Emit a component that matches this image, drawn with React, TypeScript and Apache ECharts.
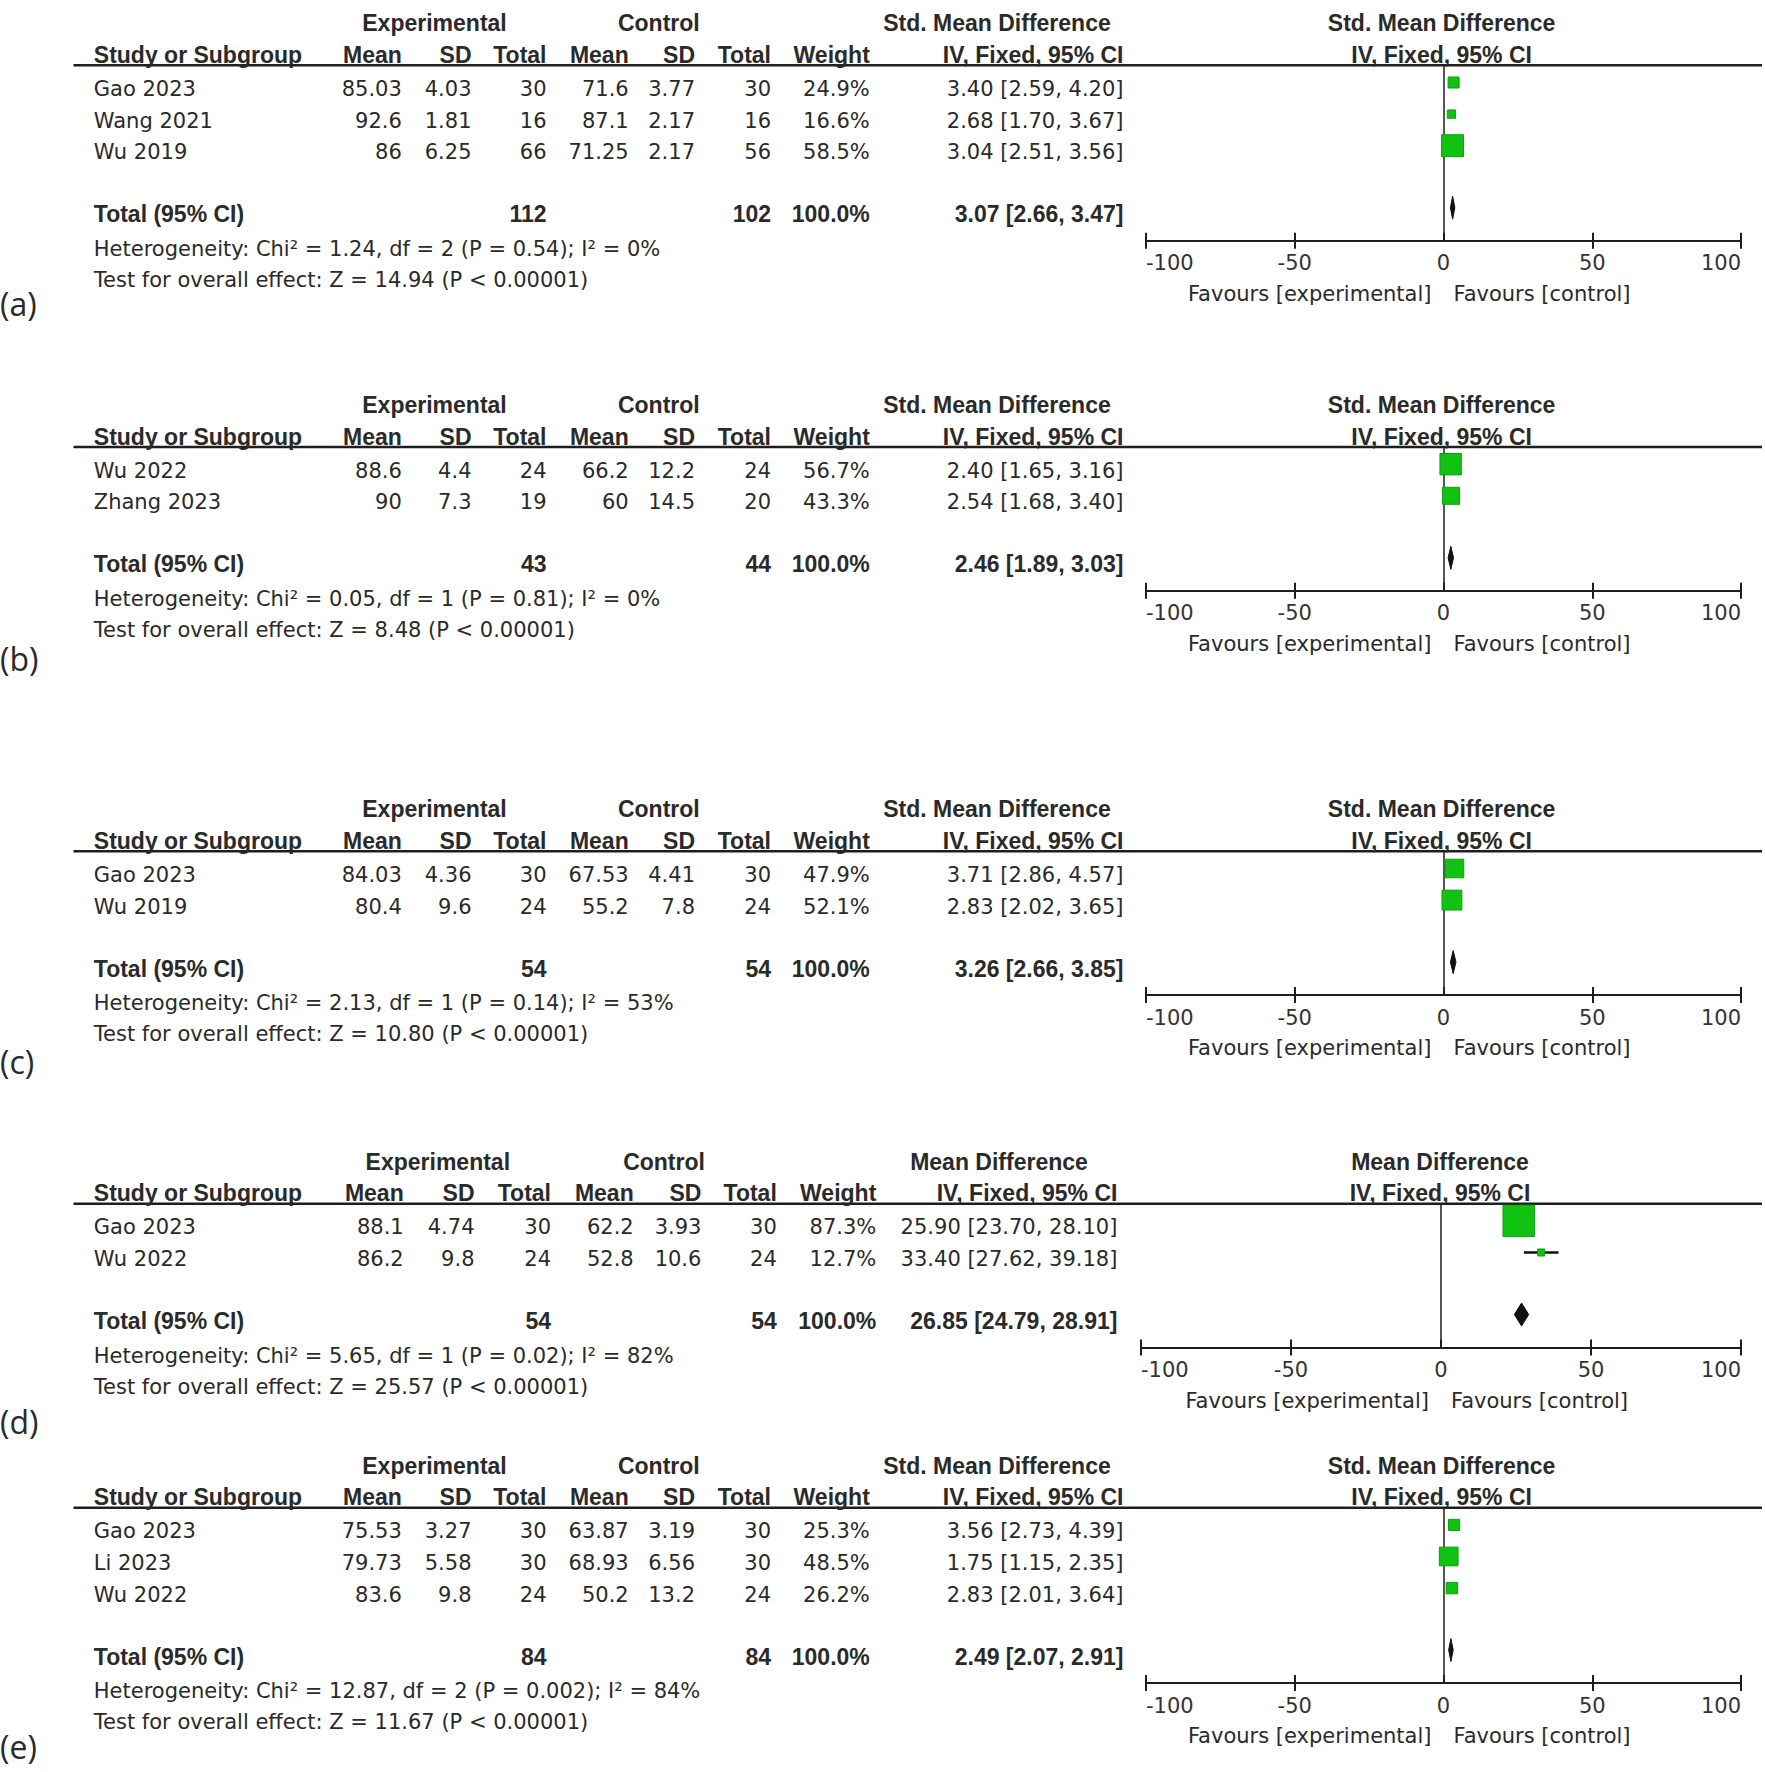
import React, { useEffect, useRef } from "react";
import * as echarts from "echarts";

// ---------------- DATA ----------------
const panelLabels = ["(a)", "(b)", "(c)", "(d)", "(e)"];
const effectTitles = [
  "Std. Mean Difference",
  "Std. Mean Difference",
  "Std. Mean Difference",
  "Mean Difference",
  "Std. Mean Difference",
];
const methodTitle = "IV, Fixed, 95% CI";
const studyNames = [
  ["Gao 2023", "Wang 2021", "Wu 2019"],
  ["Wu 2022", "Zhang 2023"],
  ["Gao 2023", "Wu 2019"],
  ["Gao 2023", "Wu 2022"],
  ["Gao 2023", "Li 2023", "Wu 2022"],
];
const expMean = [[85.03, 92.6, 86], [88.6, 90], [84.03, 80.4], [88.1, 86.2], [75.53, 79.73, 83.6]];
const expSD = [[4.03, 1.81, 6.25], [4.4, 7.3], [4.36, 9.6], [4.74, 9.8], [3.27, 5.58, 9.8]];
const expTotal = [[30, 16, 66], [24, 19], [30, 24], [30, 24], [30, 30, 24]];
const ctlMean = [[71.6, 87.1, 71.25], [66.2, 60], [67.53, 55.2], [62.2, 52.8], [63.87, 68.93, 50.2]];
const ctlSD = [[3.77, 2.17, 2.17], [12.2, 14.5], [4.41, 7.8], [3.93, 10.6], [3.19, 6.56, 13.2]];
const ctlTotal = [[30, 16, 56], [24, 20], [30, 24], [30, 24], [30, 30, 24]];
const weights = [[24.9, 16.6, 58.5], [56.7, 43.3], [47.9, 52.1], [87.3, 12.7], [25.3, 48.5, 26.2]];
const estimates = [[3.4, 2.68, 3.04], [2.4, 2.54], [3.71, 2.83], [25.9, 33.4], [3.56, 1.75, 2.83]];
const ciLower = [[2.59, 1.7, 2.51], [1.65, 1.68], [2.86, 2.02], [23.7, 27.62], [2.73, 1.15, 2.01]];
const ciUpper = [[4.2, 3.67, 3.56], [3.16, 3.4], [4.57, 3.65], [28.1, 39.18], [4.39, 2.35, 3.64]];
const totalExp = [112, 43, 54, 54, 84];
const totalCtl = [102, 44, 54, 54, 84];
const pooledEst = [3.07, 2.46, 3.26, 26.85, 2.49];
const pooledLower = [2.66, 1.89, 2.66, 24.79, 2.07];
const pooledUpper = [3.47, 3.03, 3.85, 28.91, 2.91];
const hetChi2 = [1.24, 0.05, 2.13, 5.65, 12.87];
const hetDf = [2, 1, 1, 1, 2];
const hetP = ["0.54", "0.81", "0.14", "0.02", "0.002"];
const hetI2 = [0, 0, 53, 82, 84];
const zValues = [14.94, 8.48, 10.8, 25.57, 11.67];
const overallP = ["0.00001", "0.00001", "0.00001", "0.00001", "0.00001"];
const axisMin = -100;
const axisMax = 100;
const axisStep = 50;
const favoursLeft = "Favours [experimental]";
const favoursRight = "Favours [control]";

// ---------------- LAYOUT ----------------
const W = 1765;
const H = 1772;
const PANEL_TOP = [23.3, 405, 809.3, 1161.7, 1465.7];
const LABEL_Y = [303.3, 658.3, 1061.7, 1421.7, 1746];
const HDR2 = 31.7;
const HLINE = 42;
const ROW0 = 65.7;
const ROW_GAP = 31.6;
const TOTAL_GAP = 62;
const HET = 34.5;
const TEST = 65.5;
const AXIS = 26.5;
const PLOT_SHIFT = -6.5;

const colsStd = {
  study: 93.8, expMean: 401.8, expSD: 471.5, expTotal: 546.5,
  ctlMean: 628.7, ctlSD: 695, ctlTotal: 771, weight: 869.8, ci: 1123.5,
  expHead: 434.5, ctlHead: 658.8, effHead: 997,
  plotL: 1146, plotR: 1741, plotHead: 1441.6,
};
const colsMD = {
  study: 93.8, expMean: 403.7, expSD: 474.5, expTotal: 551,
  ctlMean: 633.7, ctlSD: 701.4, ctlTotal: 776.8, weight: 876.3, ci: 1117.4,
  expHead: 437.8, ctlHead: 664, effHead: 999,
  plotL: 1141, plotR: 1741, plotHead: 1440,
};
const panelCols = [colsStd, colsStd, colsStd, colsMD, colsStd];

const REG = "'DejaVu Sans', sans-serif";
const BOLD = "'Liberation Sans', Arial, sans-serif";
const REG_SIZE = 21;
const BOLD_SIZE = 23;
const LABEL_SIZE = 32;
const TXT = "#2a2a2a";
const GREEN = "#12c212";
const GREEN_EDGE = "#0ba00b";

const fmt2 = (v: number) => v.toFixed(2);
const ciText = (e: number, l: number, u: number) => `${fmt2(e)} [${fmt2(l)}, ${fmt2(u)}]`;

function txt(text: string, x: number, y: number, align: string, bold = false, size?: number, family?: string) {
  return {
    type: "text",
    x,
    y,
    silent: true,
    style: {
      text,
      textAlign: align,
      textVerticalAlign: "middle",
      fontFamily: family || (bold ? BOLD : REG),
      fontWeight: bold ? "bold" : "normal",
      fontSize: size || (bold ? BOLD_SIZE : REG_SIZE),
      fill: TXT,
    },
  };
}

function buildOption() {
  const grids: any[] = [];
  const xAxes: any[] = [];
  const yAxes: any[] = [];
  const series: any[] = [];
  const graphics: any[] = [];

  panelLabels.forEach((label, p) => {
    const c = panelCols[p];
    const top = PANEL_TOP[p];
    const n = studyNames[p].length;
    const rowY = (i: number) => top + ROW0 + i * ROW_GAP;
    const totalY = rowY(n - 1) + TOTAL_GAP;
    const gridTop = top + HLINE;
    const gridBottom = totalY + AXIS;
    const sq0 = rowY(0) + PLOT_SHIFT;
    const yMin = (gridTop - sq0) / ROW_GAP;
    const yMax = (gridBottom - sq0) / ROW_GAP;
    const totalRow = (n - 1) + TOTAL_GAP / ROW_GAP;
    const zeroX = c.plotL + ((0 - axisMin) / (axisMax - axisMin)) * (c.plotR - c.plotL);

    grids.push({
      left: c.plotL,
      top: gridTop,
      width: c.plotR - c.plotL,
      height: gridBottom - gridTop,
      containLabel: false,
    });
    const tickLine = { color: "#1e1e1e", width: 2 };
    xAxes.push({
      gridIndex: p,
      type: "value",
      min: axisMin,
      max: axisMax,
      interval: axisStep,
      position: "bottom",
      axisLine: { show: true, onZero: false, lineStyle: { color: "#1e1e1e", width: 2 } },
      axisTick: { show: true, inside: true, length: 8, lineStyle: tickLine },
      axisLabel: {
        show: true,
        margin: 12,
        color: "#333",
        fontFamily: REG,
        fontSize: REG_SIZE,
        alignMinLabel: "left",
        alignMaxLabel: "right",
      },
      splitLine: { show: false },
    });
    xAxes.push({
      gridIndex: p,
      type: "value",
      min: axisMin,
      max: axisMax,
      interval: axisStep,
      position: "bottom",
      axisLine: { show: false, onZero: false },
      axisTick: {
        show: true,
        inside: false,
        length: 8,
        lineStyle: tickLine,
        customValues: [axisMin, axisMin + axisStep, axisMax - axisStep, axisMax],
      },
      axisLabel: { show: false },
      splitLine: { show: false },
    });
    yAxes.push({
      gridIndex: p,
      type: "value",
      inverse: true,
      min: yMin,
      max: yMax,
      axisLine: { show: true, onZero: true, onZeroAxisIndex: 2 * p, lineStyle: { color: "#1e1e1e", width: 1.5 } },
      axisTick: { show: false },
      axisLabel: { show: false },
      splitLine: { show: false },
    });

    const studyData = studyNames[p].map((_, i) => [
      estimates[p][i], ciLower[p][i], ciUpper[p][i], i, weights[p][i],
    ]);
    series.push({
      type: "custom",
      xAxisIndex: 2 * p,
      yAxisIndex: p,
      clip: false,
      silent: true,
      encode: { x: [0, 1, 2], y: 3 },
      data: studyData,
      renderItem: (params: any, api: any) => {
        const est = api.value(0);
        const lo = api.value(1);
        const hi = api.value(2);
        const row = api.value(3);
        const w = api.value(4);
        const pL = api.coord([lo, row]);
        const pH = api.coord([hi, row]);
        const pE = api.coord([est, row]);
        const s = 2.85 + 0.327 * w;
        return {
          type: "group",
          children: [
            {
              type: "line",
              shape: { x1: pL[0], y1: pL[1], x2: pH[0], y2: pH[1] },
              style: { stroke: "#111", lineWidth: 2.5 },
            },
            {
              type: "rect",
              shape: { x: pE[0] - s / 2, y: pE[1] - s / 2, width: s, height: s },
              style: { fill: GREEN, stroke: GREEN_EDGE, lineWidth: 1 },
            },
          ],
        };
      },
    });
    series.push({
      type: "custom",
      xAxisIndex: 2 * p,
      yAxisIndex: p,
      clip: false,
      silent: true,
      encode: { x: [0, 1, 2], y: 3 },
      data: [[pooledEst[p], pooledLower[p], pooledUpper[p], totalRow]],
      renderItem: (params: any, api: any) => {
        const row = api.value(3);
        const pE = api.coord([api.value(0), row]);
        const pL = api.coord([api.value(1), row]);
        const pH = api.coord([api.value(2), row]);
        const h = 11.5;
        return {
          type: "polygon",
          shape: {
            points: [
              [pL[0] - 1, pE[1]],
              [pE[0], pE[1] - h],
              [pH[0] + 1, pE[1]],
              [pE[0], pE[1] + h],
            ],
          },
          style: { fill: "#111", stroke: "#111", lineWidth: 1 },
        };
      },
    });

    // header line
    graphics.push({
      type: "line",
      silent: true,
      shape: { x1: 73.5, y1: gridTop, x2: 1762, y2: gridTop },
      style: { stroke: "#1e1e1e", lineWidth: 2.5 },
    });
    // header row 1
    graphics.push(txt("Experimental", c.expHead, top, "center", true));
    graphics.push(txt("Control", c.ctlHead, top, "center", true));
    graphics.push(txt(effectTitles[p], c.effHead, top, "center", true));
    graphics.push(txt(effectTitles[p], c.plotHead, top, "center", true));
    // header row 2
    const h2 = top + HDR2;
    graphics.push(txt("Study or Subgroup", c.study, h2, "left", true));
    graphics.push(txt("Mean", c.expMean, h2, "right", true));
    graphics.push(txt("SD", c.expSD, h2, "right", true));
    graphics.push(txt("Total", c.expTotal, h2, "right", true));
    graphics.push(txt("Mean", c.ctlMean, h2, "right", true));
    graphics.push(txt("SD", c.ctlSD, h2, "right", true));
    graphics.push(txt("Total", c.ctlTotal, h2, "right", true));
    graphics.push(txt("Weight", c.weight, h2, "right", true));
    graphics.push(txt(methodTitle, c.ci, h2, "right", true));
    graphics.push(txt(methodTitle, c.plotHead, h2, "center", true));

    // study rows
    studyNames[p].forEach((name, i) => {
      const y = rowY(i);
      graphics.push(txt(name, c.study, y, "left"));
      graphics.push(txt(String(expMean[p][i]), c.expMean, y, "right"));
      graphics.push(txt(String(expSD[p][i]), c.expSD, y, "right"));
      graphics.push(txt(String(expTotal[p][i]), c.expTotal, y, "right"));
      graphics.push(txt(String(ctlMean[p][i]), c.ctlMean, y, "right"));
      graphics.push(txt(String(ctlSD[p][i]), c.ctlSD, y, "right"));
      graphics.push(txt(String(ctlTotal[p][i]), c.ctlTotal, y, "right"));
      graphics.push(txt(weights[p][i].toFixed(1) + "%", c.weight, y, "right"));
      graphics.push(txt(ciText(estimates[p][i], ciLower[p][i], ciUpper[p][i]), c.ci, y, "right"));
    });

    // total row
    graphics.push(txt("Total (95% CI)", c.study, totalY, "left", true));
    graphics.push(txt(String(totalExp[p]), c.expTotal, totalY, "right", true));
    graphics.push(txt(String(totalCtl[p]), c.ctlTotal, totalY, "right", true));
    graphics.push(txt("100.0%", c.weight, totalY, "right", true));
    graphics.push(txt(ciText(pooledEst[p], pooledLower[p], pooledUpper[p]), c.ci, totalY, "right", true));

    graphics.push(
      txt(
        `Heterogeneity: Chi² = ${fmt2(hetChi2[p])}, df = ${hetDf[p]} (P = ${hetP[p]}); I² = ${hetI2[p]}%`,
        c.study, totalY + HET, "left"
      )
    );
    graphics.push(
      txt(
        `Test for overall effect: Z = ${fmt2(zValues[p])} (P < ${overallP[p]})`,
        c.study, totalY + TEST, "left"
      )
    );

    // favours
    graphics.push(txt(favoursLeft, zeroX - 12, gridBottom + 53, "right"));
    graphics.push(txt(favoursRight, zeroX + 10, gridBottom + 53, "left"));

    // panel label
    graphics.push(txt(label, 0, LABEL_Y[p], "left", false, LABEL_SIZE, "'Open Sans', 'Noto Sans', sans-serif"));
  });

  return {
    animation: false,
    backgroundColor: "#ffffff",
    grid: grids,
    xAxis: xAxes,
    yAxis: yAxes,
    series,
    graphic: graphics,
  };
}

export default function App() {
  const ref = useRef<HTMLDivElement>(null);
  useEffect(() => {
    document.body.style.margin = "0";
    if (!ref.current) return;
    const chart = echarts.init(ref.current, undefined, { renderer: "svg", width: W, height: H });
    chart.setOption(buildOption() as any);
    return () => {
      chart.dispose();
    };
  }, []);
  return <div ref={ref} style={{ width: W, height: H, background: "#fff" }} />;
}
